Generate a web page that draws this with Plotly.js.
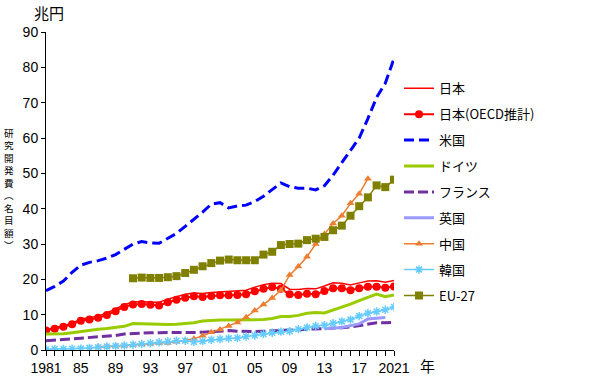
<!DOCTYPE html>
<html>
<head>
<meta charset="utf-8">
<script src="https://cdn.plot.ly/plotly-3.0.1.min.js"></script>
<style>html,body{margin:0;padding:0;background:#fff;}#chart{width:600px;height:377px;}</style>
</head>
<body>
<div id="chart"></div>
<script>
const years = [];
for (let y = 1981; y <= 2021; y++) years.push(y);

const tickYears = [1981,1985,1989,1993,1997,2001,2005,2009,2013,2017,2021];
const tickLabels = ['1981','85','89','93','97','01','05','09','13','17','2021'];

const japan = [5.8,6.3,6.9,7.6,8.8,9.1,9.6,10.5,11.6,12.8,13.6,13.7,13.5,13.5,14.4,15.1,15.8,16.1,16.0,16.3,16.5,16.6,16.7,16.9,17.8,18.5,18.9,18.8,17.2,17.1,17.4,17.3,18.1,19.0,18.9,18.4,19.0,19.5,19.6,19.2,19.7];
const japanOECD = [5.5,6.0,6.6,7.3,8.3,8.6,9.1,9.9,11.0,12.2,12.9,13.0,12.8,12.6,13.5,14.2,14.8,15.2,15.0,15.3,15.5,15.5,15.6,15.8,16.6,17.3,17.8,17.3,15.8,15.6,15.9,15.8,16.7,17.5,17.5,16.9,17.5,17.9,17.9,17.6,18.0];
const usa = [16.8,18.0,19.5,22.0,24.0,24.8,25.3,26.0,27.0,28.5,30.0,30.7,30.3,30.2,31.5,33.0,35.0,37.0,39.0,41.3,41.7,40.2,40.8,41.0,42.0,43.5,45.5,47.3,46.2,45.8,45.8,45.3,46.5,49.5,53.0,56.5,60.0,65.5,71.5,75.5,82.5];
const germany = [4.5,4.5,4.6,4.9,5.3,5.6,5.9,6.1,6.4,6.7,7.5,7.4,7.2,7.1,7.2,7.3,7.5,7.7,8.2,8.4,8.5,8.5,8.5,8.5,8.4,8.6,8.9,9.5,9.5,9.8,10.4,10.6,10.5,11.3,12.0,13.0,14.0,15.0,15.8,15.1,15.6];
const france = [2.6,2.8,3.0,3.2,3.4,3.5,3.6,3.8,4.1,4.5,4.7,4.8,4.9,4.9,4.9,4.9,4.9,4.9,5.0,5.2,5.4,5.5,5.3,5.2,5.2,5.3,5.4,5.5,5.6,5.7,5.8,5.8,5.9,6.1,6.3,6.5,6.9,7.3,7.7,7.7,7.8];
const ukYears = [2013,2014,2015,2016,2017,2018,2019,2020];
const uk = [6.0,6.2,6.4,6.9,7.4,8.8,9.1,9.2];
const chinaYears = [1987,1988,1989,1990,1991,1992,1993,1994,1995,1996,1997,1998,1999,2000,2001,2002,2003,2004,2005,2006,2007,2008,2009,2010,2011,2012,2013,2014,2015,2016,2017,2018];
const china = [0.9,1.0,1.1,1.2,1.4,1.6,1.8,1.9,2.0,2.3,2.7,3.2,4.0,5.0,5.8,6.8,7.8,9.3,11.2,12.9,14.7,16.9,21.2,23.6,26.4,30.0,32.8,35.8,38.0,41.5,44.2,48.5];
const korea = [0.2,0.25,0.3,0.35,0.4,0.6,0.8,1.0,1.1,1.3,1.5,1.7,1.9,2.2,2.4,2.6,2.6,2.3,2.5,2.9,3.1,3.3,3.4,3.8,4.1,4.5,4.9,5.2,5.3,5.9,6.4,6.8,7.0,7.6,8.1,8.6,9.6,10.4,10.9,11.4,12.2];
const euYears = [1991,1992,1993,1994,1995,1996,1997,1998,1999,2000,2001,2002,2003,2004,2005,2006,2007,2008,2009,2010,2011,2012,2013,2014,2015,2016,2017,2018,2019,2020,2021];
const eu27 = [20.3,20.5,20.4,20.4,20.6,20.9,21.8,22.7,23.7,24.6,25.3,25.6,25.4,25.4,25.4,27.0,27.8,29.7,30.0,30.1,31.1,31.5,32.0,33.9,35.2,38.0,40.7,43.2,46.6,46.1,48.2];

const names = ['日本','日本(OECD推計)','米国','ドイツ','フランス','英国','中国','韓国','EU-27'];
const yTitleChars = ['研','究','開','発','費','︵','名','目','額','︶'];

function tr(i, x, y, line, marker) {
  const t = {
    type: 'scatter', x: x, y: y, name: names[i], legendgroup: 'g' + i,
    mode: marker ? 'lines+markers' : 'lines',
    line: line, hoverinfo: 'skip'
  };
  if (marker) t.marker = marker;
  return t;
}

const data = [
  tr(0, years, japan, {color: '#ff0000', width: 1.5}),
  tr(1, years, japanOECD, {color: '#ff0000', width: 2}, {symbol: 'circle', size: 8, color: '#ff0000'}),
  tr(2, years, usa, {color: '#0000ff', width: 3, dash: '10px,5px'}),
  tr(3, years, germany, {color: '#99cc00', width: 3}),
  tr(4, years, france, {color: '#7030a0', width: 3, dash: '10px,4px'}),
  tr(5, ukYears, uk, {color: '#9999ff', width: 3}),
  tr(6, chinaYears, china, {color: '#ed7d31', width: 1.5}, {symbol: 'triangle-up', size: 7, color: '#ed7d31'}),
  tr(7, years, korea, {color: '#66ccff', width: 1.5}, {symbol: 'asterisk-open', size: 7, color: '#66ccff', line: {color: '#66ccff', width: 1.5}}),
  tr(8, euYears, eu27, {color: '#808000', width: 1.5}, {symbol: 'square', size: 8, color: '#808000'})
];

const tickFont = {family: 'Liberation Sans, Arial, sans-serif', size: 14, color: '#000'};
const jpFont = 'Noto Sans CJK JP, sans-serif';

// plot area: left 46px, width 348px, top 32px, height 318px
const annotations = [
  {text: '兆円', xref: 'paper', yref: 'paper', x: 0.01, y: (350 - 13) / 318, xanchor: 'center', yanchor: 'middle', showarrow: false, font: {family: jpFont, size: 15, color: '#000'}},
  {text: '年', xref: 'paper', yref: 'paper', x: (427 - 46) / 348, y: (350 - 365) / 318, xanchor: 'center', yanchor: 'middle', showarrow: false, font: {family: jpFont, size: 15, color: '#000'}},
  {text: yTitleChars.join('<br>'), xref: 'paper', yref: 'paper', x: (9 - 46) / 348, y: (350 - 189) / 318,
    xanchor: 'center', yanchor: 'middle', showarrow: false, font: {family: jpFont, size: 9.6, color: '#000'}}
];

const layout = {
  width: 600, height: 377,
  margin: {l: 46, r: 206, t: 32, b: 27},
  paper_bgcolor: '#fff', plot_bgcolor: '#fff',
  showlegend: true,
  legend: {
    x: 1.0144, xanchor: 'left', y: 0.87, yanchor: 'top',
    font: {family: jpFont, size: 13, color: '#000'},
    tracegroupgap: 6, itemwidth: 30, bgcolor: 'rgba(0,0,0,0)'
  },
  xaxis: {
    range: [1981, 2021], showgrid: false, zeroline: false,
    showline: true, linecolor: '#000', linewidth: 1,
    ticks: 'outside', ticklen: 5, tickcolor: '#000',
    tickmode: 'array',
    tickvals: years,
    ticktext: years.map(y => { const k = tickYears.indexOf(y); return k >= 0 ? tickLabels[k] : ''; }),
    tickfont: tickFont, tickangle: 0
  },
  yaxis: {
    range: [0, 90], showgrid: false, zeroline: false,
    showline: true, linecolor: '#000', linewidth: 1,
    ticks: 'outside', ticklen: 4, tickcolor: '#000',
    tickmode: 'array',
    tickvals: [0,10,20,30,40,50,60,70,80,90],
    tickfont: tickFont
  },
  annotations: annotations
};

Plotly.newPlot('chart', data, layout, {staticPlot: true, displayModeBar: false});
</script>
</body>
</html>
